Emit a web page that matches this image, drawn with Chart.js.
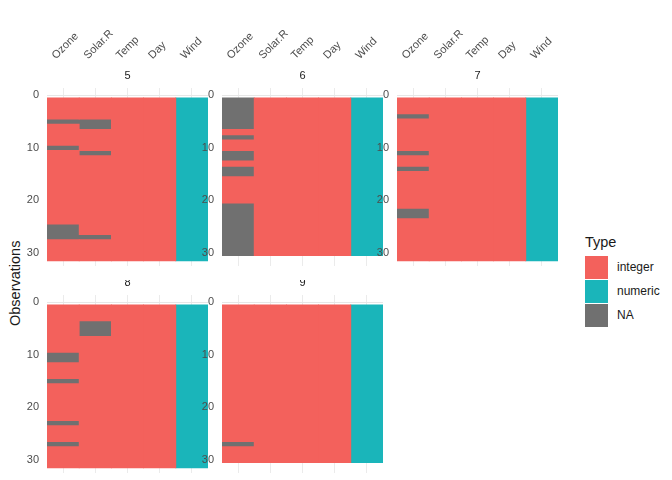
<!DOCTYPE html>
<html><head><meta charset="utf-8">
<script src="https://cdn.jsdelivr.net/npm/chart.js@4"></script>
<style>
body{margin:0;width:672px;height:480px;background:#fff;position:relative;overflow:hidden;font-family:"Liberation Sans",Arial,sans-serif}
canvas{position:absolute}
.lg{position:absolute;font-size:12px;color:#1a1a1a}
.sw{position:absolute;width:23px;height:23px}
</style></head><body>
<div class="lg" style="left:7px;top:326px;transform:rotate(-90deg);transform-origin:0 0;font-size:14.5px">Observations</div>
<div class="lg" style="left:585px;top:234px;font-size:14.5px">Type</div>
<div class="sw" style="left:585px;top:256px;background:#F3615C"></div><div class="lg" style="left:617px;top:260px">integer</div>
<div class="sw" style="left:585px;top:280px;background:#1AB5BA"></div><div class="lg" style="left:617px;top:284px">numeric</div>
<div class="sw" style="left:585px;top:304px;background:#707070"></div><div class="lg" style="left:617px;top:308px">NA</div>
<script>
const months=['5','6','7','8','9'];
const nRows=[31,30,31,31,30];
const columns=['Ozone','Solar.R','Temp','Day','Wind'];
const colTypes=['integer','integer','integer','integer','numeric'];
const ozoneNA=[[5,10,25,26,27],[1,2,3,4,5,6,8,11,12,14,15,21,22,23,24,25,26,27,28,29,30],[4,11,14,22,23],[10,11,15,23,27],[27]];
const solarNA=[[5,6,11,27],[],[],[4,5,6],[]];
const typeColors={integer:'#F3615C',numeric:'#1AB5BA',NA:'#707070'};
const types=['integer','numeric','NA'];

const panels=[[47,0,true],[222,0,true],[397,0,true],[47,280,false],[222,280,false]];
const stripPlugin={id:'strip',afterDraw(c){const a=c.chartArea,ctx=c.ctx;ctx.save();ctx.fillStyle='#1a1a1a';ctx.font='11px "Liberation Sans",Arial';ctx.textAlign='center';ctx.textBaseline='middle';ctx.fillText(c.options.plugins.strip.text,(a.left+a.right)/2,a.top-12);ctx.restore();}};

months.forEach((m,mi)=>{
  const naLists=[ozoneNA[mi],solarNA[mi],[],[],[]];
  const data={integer:[],numeric:[],NA:[]};
  columns.forEach((col,ci)=>{
    let start=1,cur=null;
    const typeOf=r=>naLists[ci].includes(r)?'NA':colTypes[ci];
    for(let r=1;r<=nRows[mi]+1;r++){
      const t=r<=nRows[mi]?typeOf(r):null;
      if(t!==cur){ if(cur) data[cur].push({x:col,y:[start-0.5,r-0.5]}); cur=t; start=r; }
    }
  });
  const [left,top,isTop]=panels[mi];
  const cv=document.createElement('canvas');
  const h=isTop?266:193;
  const w=231;
  cv.style.left=(left-30)+'px';cv.style.top=top+'px';cv.style.width=w+'px';cv.style.height=h+'px';
  cv.width=w;cv.height=h;
  document.body.appendChild(cv);
  new Chart(cv,{type:'bar',
    data:{labels:columns,datasets:types.map(t=>({label:t,data:data[t],backgroundColor:typeColors[t],borderWidth:0,inflateAmount:0.4,barPercentage:1,categoryPercentage:1,grouped:false}))},
    options:{responsive:false,animation:false,devicePixelRatio:1,
      layout:{padding:{top:isTop?0:15,right:40,bottom:0,left:0}},
      plugins:{legend:{display:false},tooltip:{enabled:false},strip:{text:m}},
      scales:{
        x:{position:isTop?'top':'bottom',offset:true,border:{display:false},
          grid:{color:'#ebebeb',drawTicks:false,offset:false},
          ticks:{display:isTop,minRotation:45,maxRotation:45,padding:isTop?26:0,color:'#4d4d4d',font:{size:11,family:'"Liberation Sans",Arial'}},
          afterFit:s=>{s.height=isTop?88:0;s.paddingLeft=0;s.paddingRight=0;}},
        y:{reverse:true,min:-1.4,max:32.5,border:{display:false},
          afterBuildTicks:s=>{s.ticks=[0,5,10,15,20,25,30].map(v=>({value:v}));},
          grid:{drawTicks:false,color:c=>c.tick&&c.tick.value%10===0?'#e6e6e6':'#f2f2f2'},
          ticks:{padding:8,color:'#4d4d4d',font:{size:11,family:'"Liberation Sans",Arial'},callback:v=>v%10===0?v:''},
          afterFit:s=>{s.width=30;s.paddingTop=0;s.paddingBottom=0;}}
      }},
    plugins:[stripPlugin]});
});
</script>
</body></html>
